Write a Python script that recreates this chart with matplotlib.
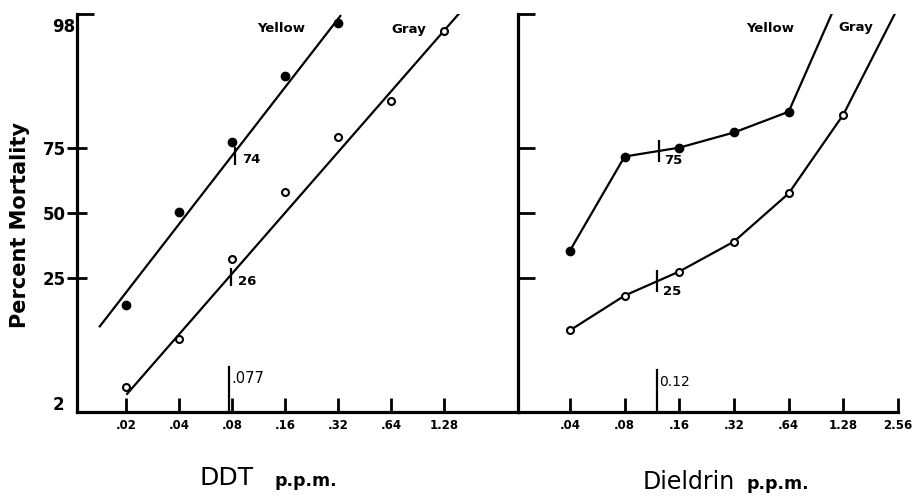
import math
import numpy as np
import matplotlib
matplotlib.use("Agg")
import matplotlib.pyplot as plt
from matplotlib.ticker import NullLocator, FixedLocator, FixedFormatter

# ---------------- data ----------------
ddt_conc = [0.02, 0.04, 0.08, 0.16, 0.32, 0.64, 1.28]
ddt_yellow = [17.0, 50.6, 76.9, 92.2, 97.5]
ddt_gray = [3.6, 9.6, 31.6, 58.4, 78.5, 87.7, 97.0]
ddt_yellow_fit_x = [0.0142, 0.33]
ddt_yellow_fit_y = [12.1, 97.9]
ddt_gray_fit_x = [0.0203, 1.55]
ddt_gray_fit_y = [3.1, 98.0]
ddt_ld_marks = [(0.083, 72.3, "74"), (0.079, 25.3, "26")]
ddt_ref = (0.077, 5.6, ".077")

diel_conc = [0.04, 0.08, 0.16, 0.32, 0.64, 1.28, 2.56]
diel_yellow = [34.9, 72.0, 75.0, 79.7, 85.2, 99.0]
diel_gray = [11.3, 19.7, 27.3, 38.4, 58.0, 84.5, 98.3]
diel_ld_marks = [(0.1236, 74.0, "75"), (0.1206, 24.0, "25")]
diel_ref = (0.12, 5.3, "0.12")

ddt_ticks = [0.02, 0.04, 0.08, 0.16, 0.32, 0.64, 1.28]
ddt_ticklabels = [".02", ".04", ".08", ".16", ".32", ".64", "1.28"]
diel_ticks = [0.04, 0.08, 0.16, 0.32, 0.64, 1.28, 2.56]
diel_ticklabels = [".04", ".08", ".16", ".32", ".64", "1.28", "2.56"]
y_ticks = [25, 50, 75]
y_ends = [2, 98]

# ---------------- probit scale ----------------
_a = [-3.969683028665376e+01, 2.209460984245205e+02, -2.759285104469687e+02,
      1.383577518672690e+02, -3.066479806614716e+01, 2.506628277459239e+00]
_b = [-5.447609879822406e+01, 1.615858368580409e+02, -1.556989798598866e+02,
      6.680131188771972e+01, -1.328068155022803e+01]
_c = [-7.784894002430293e-03, -3.223964580411365e-01, -2.400758277161838e+00,
      -2.549671058491299e+00, 4.374664141464968e+00, 2.938163982698783e+00]
_d = [7.784695709041462e-03, 3.224671638067006e-01, 2.445134137142996e+00,
      3.754408661907416e+00]


def _ppf(p):
    if p != p:
        return float("nan")
    p = min(max(p, 1e-9), 1 - 1e-9)
    plow = 0.02425
    if p < plow:
        q = math.sqrt(-2 * math.log(p))
        return (((((_c[0]*q+_c[1])*q+_c[2])*q+_c[3])*q+_c[4])*q+_c[5]) / \
               ((((_d[0]*q+_d[1])*q+_d[2])*q+_d[3])*q+1)
    if p <= 1 - plow:
        q = p - 0.5
        r = q*q
        return (((((_a[0]*r+_a[1])*r+_a[2])*r+_a[3])*r+_a[4])*r+_a[5])*q / \
               (((((_b[0]*r+_b[1])*r+_b[2])*r+_b[3])*r+_b[4])*r+1)
    q = math.sqrt(-2 * math.log(1 - p))
    return -(((((_c[0]*q+_c[1])*q+_c[2])*q+_c[3])*q+_c[4])*q+_c[5]) / \
            ((((_d[0]*q+_d[1])*q+_d[2])*q+_d[3])*q+1)


_vppf = np.vectorize(_ppf, otypes=[float])
_verf = np.vectorize(math.erf, otypes=[float])


def fwd(y):
    return _vppf(np.asarray(y, dtype=float) / 100.0)


def inv(z):
    return 50.0 * (1.0 + _verf(np.asarray(z, dtype=float) / math.sqrt(2)))


# ---------------- figure ----------------
W, H = 919, 496
fig = plt.figure(figsize=(W/100, H/100), dpi=100)


def fx(x):
    return x / W


def fy(y):
    return 1 - y / H


axL = fig.add_axes([fx(77), fy(412), fx(518) - fx(77), fy(14) - fy(412)])
axR = fig.add_axes([fx(518), fy(412), fx(898) - fx(518), fy(14) - fy(412)])

for ax in (axL, axR):
    ax.set_xscale("log", base=2)
    ax.set_yscale("function", functions=(fwd, inv))
    ax.set_ylim(y_ends[0], y_ends[1])
    for s in ("top", "right"):
        ax.spines[s].set_visible(False)
    for s in ("left", "bottom"):
        ax.spines[s].set_linewidth(2.3)
    ax.xaxis.set_minor_locator(NullLocator())
    ax.patch.set_alpha(0)

axL.set_xlim(0.01054, 3.37)
axR.set_xlim(0.0207, 2.56)

axL.xaxis.set_major_locator(FixedLocator(ddt_ticks))
axL.xaxis.set_major_formatter(FixedFormatter(ddt_ticklabels))
axR.xaxis.set_major_locator(FixedLocator(diel_ticks))
axR.xaxis.set_major_formatter(FixedFormatter(diel_ticklabels))
for ax in (axL, axR):
    ax.tick_params(axis="x", direction="in", length=10, width=2, pad=5,
                   labelsize=8.5)
    for t in ax.get_xticklabels():
        t.set_fontweight("bold")

# left y axis: 25/50/75 crossing ticks, inward bracket at the top
axL.yaxis.set_major_locator(FixedLocator(y_ticks))
axL.yaxis.set_major_formatter(FixedFormatter([str(v) for v in y_ticks]))
axL.yaxis.set_minor_locator(FixedLocator([y_ends[1]]))
axL.tick_params(axis="y", which="major", direction="inout", length=14,
                width=2, pad=1, labelsize=12)
axL.tick_params(axis="y", which="minor", direction="in", length=12,
                width=2)
for t in axL.get_yticklabels():
    t.set_fontweight("bold")
fig.text(fx(75), fy(27), str(y_ends[1]), ha="right", va="center",
         fontsize=12, fontweight="bold", transform=fig.transFigure)
fig.text(fx(64), fy(405), str(y_ends[0]), ha="right", va="center",
         fontsize=12, fontweight="bold", transform=fig.transFigure)

axR.yaxis.set_major_locator(FixedLocator(y_ticks + [y_ends[1]]))
axR.yaxis.set_minor_locator(NullLocator())
axR.tick_params(axis="y", direction="in", length=12, width=2,
                labelleft=False)

# ---------------- DDT panel ----------------
lw = 1.6
axL.plot(ddt_yellow_fit_x, ddt_yellow_fit_y, color="black", lw=lw)
axL.plot(ddt_gray_fit_x, ddt_gray_fit_y, color="black", lw=lw)
axL.plot(ddt_conc[:len(ddt_yellow)], ddt_yellow, "o", color="black", ms=6,
         ls="none")
axL.plot(ddt_conc, ddt_gray, "o", mfc="white", mec="black", mew=1.5, ms=5,
         ls="none")

for x, y, lab in ddt_ld_marks:
    axL.plot([x], [y], marker="|", color="black", ms=13, mew=1.6)
    axL.annotate(lab, xy=(x, y), xytext=(5, -3), textcoords="offset points",
                 ha="left", va="center", fontsize=9.5, fontweight="bold")
x, y, lab = ddt_ref
axL.plot([x, x], [2, y], color="black", lw=1.6, clip_on=False)
axL.annotate(lab, xy=(x, y), xytext=(2, -8), textcoords="offset points",
             ha="left", va="center", fontsize=10.5)

# ---------------- Dieldrin panel ----------------
axR.plot(diel_conc[:len(diel_yellow)], diel_yellow, "-o", color="black",
         lw=lw, ms=6, markevery=slice(0, len(diel_yellow) - 1))
axR.plot(diel_conc, diel_gray, "-o", color="black", lw=lw, ms=5,
         mfc="white", mec="black", mew=1.5,
         markevery=slice(0, len(diel_gray) - 1))
for x, y, lab in diel_ld_marks:
    axR.plot([x], [y], marker="|", color="black", ms=16, mew=1.6)
    axR.annotate(lab, xy=(x, y), xytext=(4, -7), textcoords="offset points",
                 ha="left", va="center", fontsize=9.5, fontweight="bold")
x, y, lab = diel_ref
axR.plot([x, x], [2, y], color="black", lw=1.6, clip_on=False)
axR.annotate(lab, xy=(x, y), xytext=(2, -9), textcoords="offset points",
             ha="left", va="center", fontsize=10)

# ---------------- labels ----------------
tkw = dict(transform=fig.transFigure)
fig.text(fx(257), fy(29), "Yellow", ha="left", va="center", fontsize=9.5,
         fontweight="bold", **tkw)
fig.text(fx(391), fy(29), "Gray", ha="left", va="center", fontsize=9.5,
         fontweight="bold", **tkw)
fig.text(fx(746), fy(28), "Yellow", ha="left", va="center", fontsize=9.5,
         fontweight="bold", **tkw)
fig.text(fx(838), fy(28), "Gray", ha="left", va="center", fontsize=9.5,
         fontweight="bold", **tkw)

fig.text(fx(20), fy(225), "Percent Mortality", rotation=90, ha="center",
         va="center", fontsize=15, fontweight="bold", **tkw)

fig.text(fx(200), fy(485), "DDT", ha="left", va="baseline", fontsize=18,
         **tkw)
fig.text(fx(275), fy(486), "p.p.m.", ha="left", va="baseline",
         fontsize=12.5, fontweight="bold", **tkw)
fig.text(fx(643), fy(489), "Dieldrin", ha="left", va="baseline",
         fontsize=17, **tkw)
fig.text(fx(747), fy(489), "p.p.m.", ha="left", va="baseline",
         fontsize=12.5, fontweight="bold", **tkw)

fig.savefig("out.png", dpi=100)
